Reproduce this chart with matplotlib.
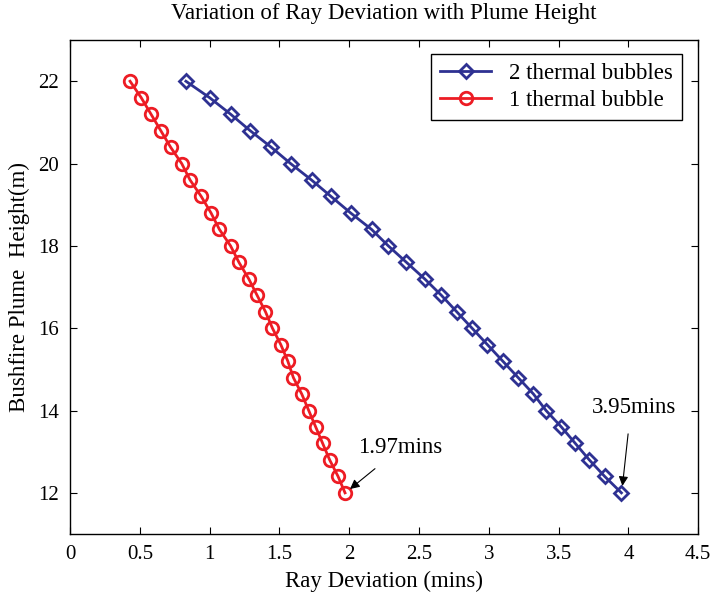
import numpy as np
import matplotlib
matplotlib.use('Agg')
import matplotlib.pyplot as plt

# plume heights (m), same for both curves
heights = [22.0, 21.6, 21.2, 20.8, 20.4, 20.0, 19.6, 19.2, 18.8, 18.4, 18.0, 17.6, 17.2,
           16.8, 16.4, 16.0, 15.6, 15.2, 14.8, 14.4, 14.0, 13.6, 13.2, 12.8, 12.4, 12.0]

# ray deviation (mins)
dev_two = [0.83, 1.00, 1.15, 1.29, 1.44, 1.58, 1.73, 1.87, 2.01, 2.16, 2.28, 2.41, 2.54,
           2.66, 2.77, 2.88, 2.99, 3.10, 3.21, 3.32, 3.41, 3.52, 3.62, 3.72, 3.83, 3.95]
dev_one = [0.43, 0.51, 0.58, 0.65, 0.72, 0.80, 0.86, 0.94, 1.01, 1.07, 1.15, 1.21, 1.28,
           1.34, 1.40, 1.45, 1.51, 1.56, 1.60, 1.66, 1.71, 1.76, 1.81, 1.86, 1.92, 1.97]

labels = ['2 thermal bubbles', '1 thermal bubble']
x_ticks = [0, 0.5, 1, 1.5, 2, 2.5, 3, 3.5, 4, 4.5]
y_ticks = [12, 14, 16, 18, 20, 22]

plt.rcParams['font.family'] = ['Liberation Serif', 'DejaVu Serif']
plt.rcParams['font.size'] = 15

fig = plt.figure(figsize=(7.11, 5.98), dpi=100)
ax = fig.add_axes([0.0985, 0.107, 0.8835, 0.826])

blue = '#2e3192'
red = '#ed1c24'
ax.plot(dev_two, heights, color=blue, lw=2, marker='D', ms=7.5, mfc='none',
        mec=blue, mew=2, label=labels[0])
ax.plot(dev_one, heights, color=red, lw=2, marker='o', ms=9, mfc='none',
        mec=red, mew=2, label=labels[1])

ax.set_xlim(0, 4.5)
ax.set_ylim(11, 23)
ax.set_xticks(x_ticks)
ax.set_xticklabels(['0', '0.5', '1', '1.5', '2', '2.5', '3', '3.5', '4', '4.5'])
ax.set_yticks(y_ticks)
ax.tick_params(direction='in', top=True, right=True, length=5, labelsize=15, pad=8)
for s in ax.spines.values():
    s.set_linewidth(1.0)

ax.set_xlabel('Ray Deviation (mins)', fontsize=16.5, labelpad=5)
ax.set_ylabel('Bushfire Plume  Height(m)', fontsize=16.5, labelpad=6)
ax.set_title('Variation of Ray Deviation with Plume Height', fontsize=16.5, pad=15)

# annotations
ax.annotate('', xy=(dev_one[-1] + 0.02, heights[-1] + 0.05), xytext=(2.2, 12.63),
            arrowprops=dict(arrowstyle='-|>', color='black', lw=0.8, mutation_scale=14))
ax.text(2.06, 13.09, '1.97mins', fontsize=16.5, va='center', ha='left')
ax.annotate('', xy=(dev_two[-1] + 0.005, heights[-1] + 0.1), xytext=(4.0, 13.5),
            arrowprops=dict(arrowstyle='-|>', color='black', lw=0.8, mutation_scale=14))
ax.text(3.74, 14.08, '3.95mins', fontsize=16.5, va='center', ha='left')

leg = ax.legend(loc='upper right', fontsize=16.5, fancybox=False, edgecolor='black',
                framealpha=1, borderpad=0.4, handlelength=2.2, labelspacing=0.25,
                handletextpad=0.8, borderaxespad=0, bbox_to_anchor=(0.9745, 0.972))
leg.get_frame().set_linewidth(1.0)

fig.savefig('out.png', dpi=100)
